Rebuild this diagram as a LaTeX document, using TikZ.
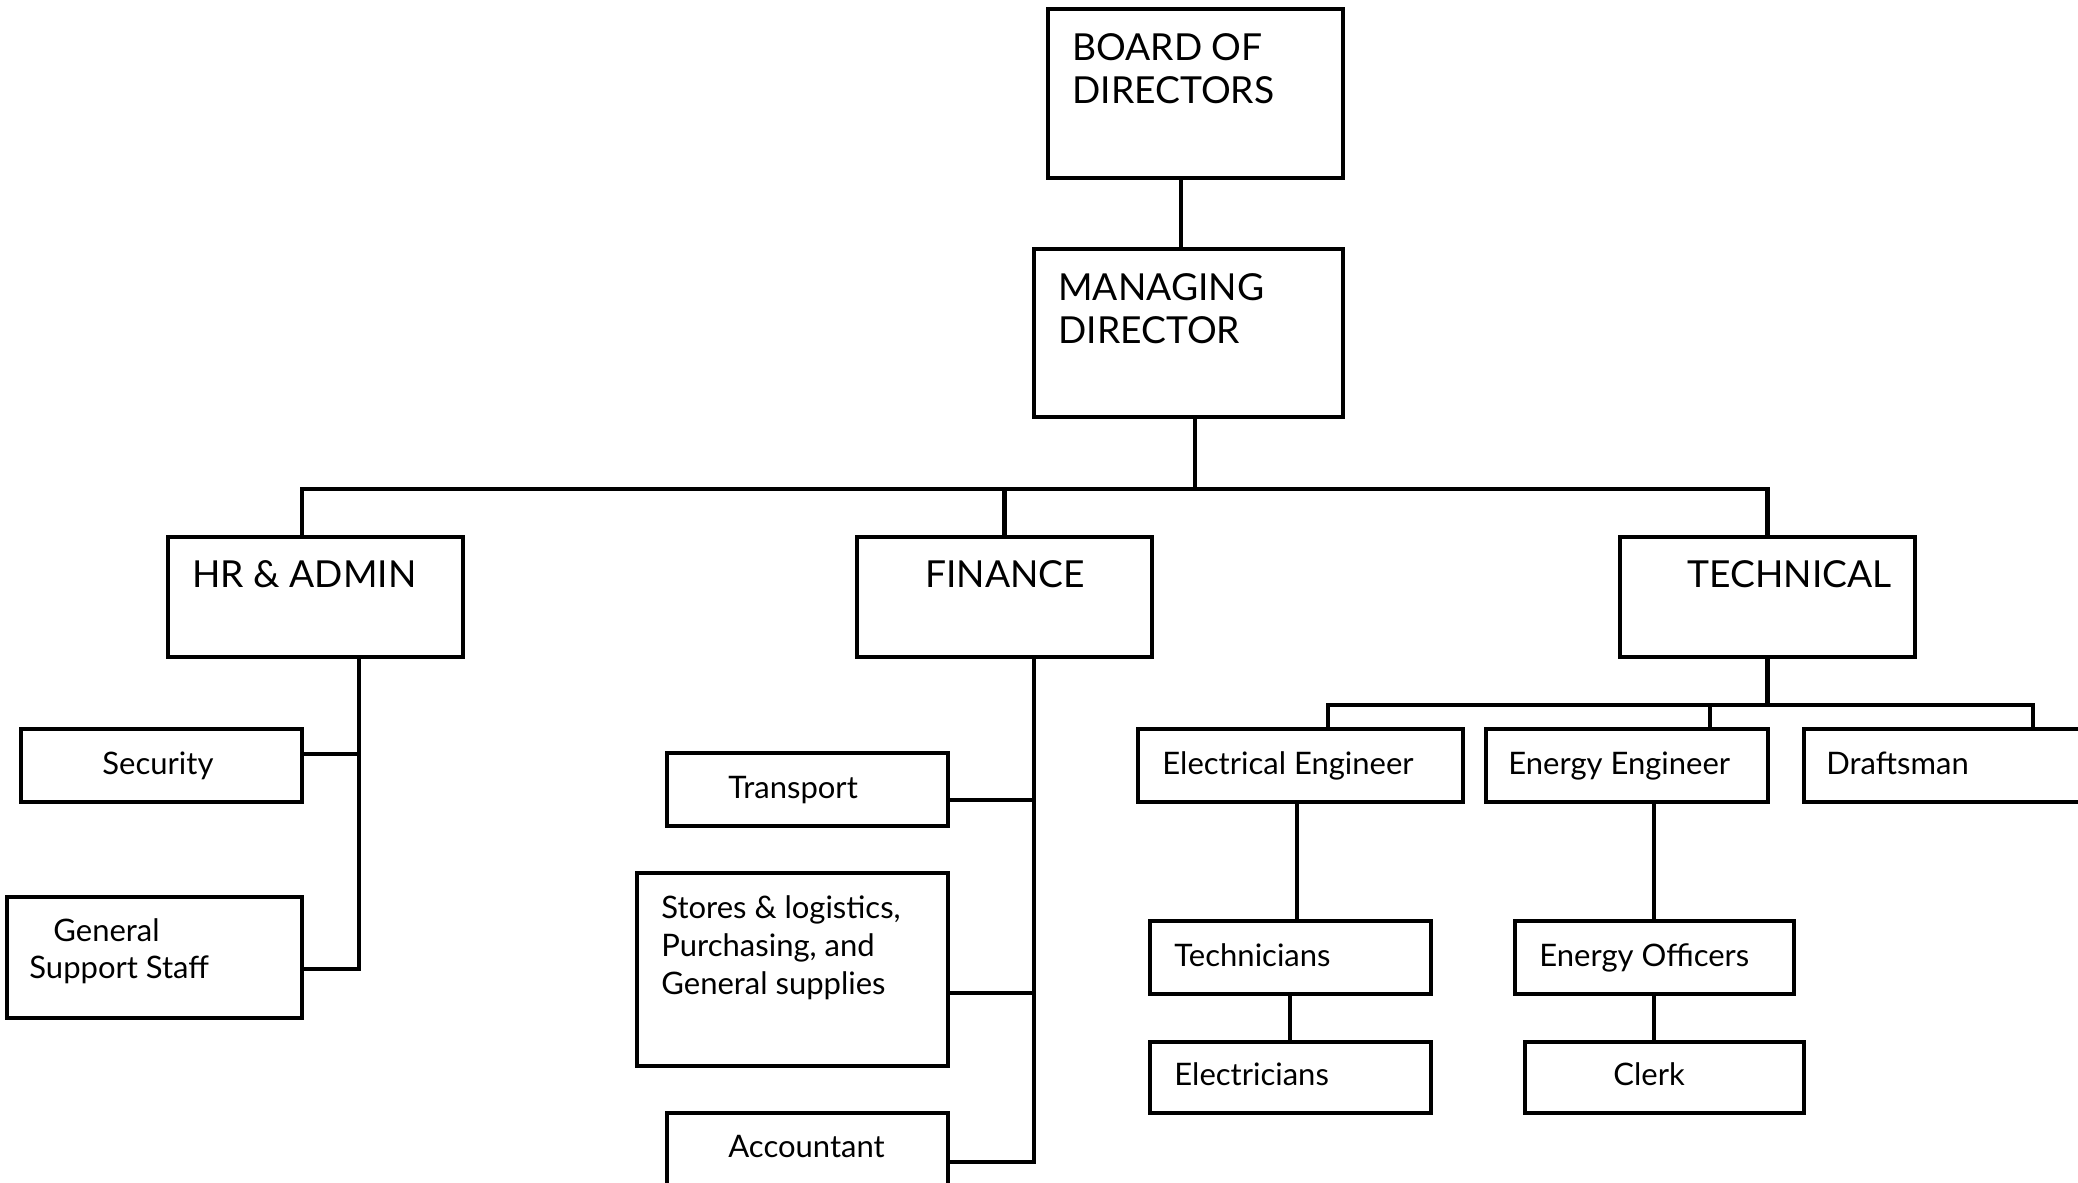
\documentclass[tikz,border=0pt]{standalone}
\usepackage{fontspec}
\setmainfont{Lato}
\usetikzlibrary{fit}
\begin{document}
\begin{tikzpicture}[x=0.5pt,y=-0.5pt,
 box/.style={draw, line width=2.4pt, inner sep=0pt},
 conn/.style={line width=2.1pt},
 big/.style={anchor=base west, inner sep=0pt, font=\fontsize{18.6}{22}\selectfont},
 small/.style={anchor=base west, inner sep=0pt, font=\fontsize{15.5}{19}\selectfont}]
\useasboundingbox (0,0) rectangle (2078,1183);
\clip (0,0) rectangle (2078,1183);
% boxes
\node[box, fit={(1048,9) (1343,178)}] (board) {};
\node[box, fit={(1034,249) (1343,417)}] (md) {};
\node[box, fit={(168,537) (463,657)}] (hr) {};
\node[box, fit={(857,537) (1152,657)}] (fin) {};
\node[box, fit={(1620,537) (1915,657)}] (tech) {};
\node[box, fit={(21,729) (302,802)}] (sec) {};
\node[box, fit={(7,897) (302,1018)}] (gss) {};
\node[box, fit={(667,753) (948,826)}] (trans) {};
\node[box, fit={(637,873) (948,1066)}] (stores) {};
\node[box, fit={(667,1113) (948,1230)}] (acct) {};
\node[box, fit={(1138,729) (1463,802)}] (ee) {};
\node[box, fit={(1486,729) (1768,802)}] (ene) {};
\node[box, fit={(1804,729) (2120,802)}] (draft) {};
\node[box, fit={(1150,921) (1431,994)}] (tcn) {};
\node[box, fit={(1150,1042) (1431,1113)}] (elec) {};
\node[box, fit={(1515,921) (1794,994)}] (off) {};
\node[box, fit={(1525,1042) (1804,1113)}] (clerk) {};
% texts
\node[big] (t1) at (1072,60) {BOARD OF};
\node[big] (t2) at (1072,103) {DIRECTORS};
\node[big] (t3) at (1058,300) {MANAGING};
\node[big] (t4) at (1058,343) {DIRECTOR};
\node[big] (t5) at (192,587) {HR \& ADMIN};
\node[big] (t6) at (925,587) {FINANCE};
\node[big] (t7) at (1687,587) {TECHNICAL};
\node[small] (t8) at (102,774) {Security};
\node[small] (t9) at (53,941) {General};
\node[small] (t10) at (29,978) {Support Staff};
\node[small] (t11) at (728,798) {Transport};
\node[small] (t12) at (661,918) {Stores \& logistics,};
\node[small] (t13) at (661,956) {Purchasing, and};
\node[small] (t14) at (661,994) {General supplies};
\node[small] (t15) at (728,1157) {Accountant};
\node[small] (t16) at (1162,774) {Electrical Engineer};
\node[small] (t17) at (1508,774) {Energy Engineer};
\node[small] (t18) at (1826,774) {Draftsman};
\node[small] (t19) at (1174,966) {Technicians};
\node[small] (t20) at (1539,966) {Energy Officers};
\node[small] (t21) at (1174,1085) {Electricians};
\node[small] (t22) at (1613,1085) {Clerk};
% connectors
\coordinate (bus) at (0,489);
\coordinate (xb) at (1181,0);
\coordinate (xm) at (1195,0);
\coordinate (xh) at (302,0);
\draw[conn] (board.south -| xb) -- (md.north -| xb);
\draw[conn] (md.south -| xm) -- (bus -| xm);
\draw[conn] (hr.north -| xh) |- (bus -| tech.north) -- (tech.north);
\draw[conn] (fin.north) -- (fin.north |- bus);
\coordinate (hs1) at (359,754);
\coordinate (hs2) at (359,969);
\draw[conn] (hr.south -| hs2) -- (hs2) -- (hs2 -| gss.east);
\draw[conn] (hs1) -- (hs1 -| sec.east);
\coordinate (fs1) at (1034,800);
\coordinate (fs2) at (1034,993);
\coordinate (fs3) at (1034,1162);
\draw[conn] (fin.south -| fs3) -- (fs3) -- (fs3 -| acct.east);
\draw[conn] (fs1) -- (fs1 -| trans.east);
\draw[conn] (fs2) -- (fs2 -| stores.east);
\coordinate (tb) at (0,705);
\coordinate (xe1) at (1328,0);
\coordinate (xe2) at (1710,0);
\coordinate (xe3) at (2033,0);
\coordinate (xe4) at (1297,0);
\coordinate (xe5) at (1290,0);
\coordinate (xe6) at (1654,0);
\draw[conn] (tech.south) -- (tech.south |- tb);
\draw[conn] (ee.north -| xe1) |- (tb -| xe3) -- (draft.north -| xe3);
\draw[conn] (tb -| xe2) -- (ene.north -| xe2);
\draw[conn] (ee.south -| xe4) -- (tcn.north -| xe4);
\draw[conn] (tcn.south -| xe5) -- (elec.north -| xe5);
\draw[conn] (ene.south -| xe6) -- (off.north -| xe6);
\draw[conn] (off.south -| xe6) -- (clerk.north -| xe6);
\end{tikzpicture}
\end{document}
